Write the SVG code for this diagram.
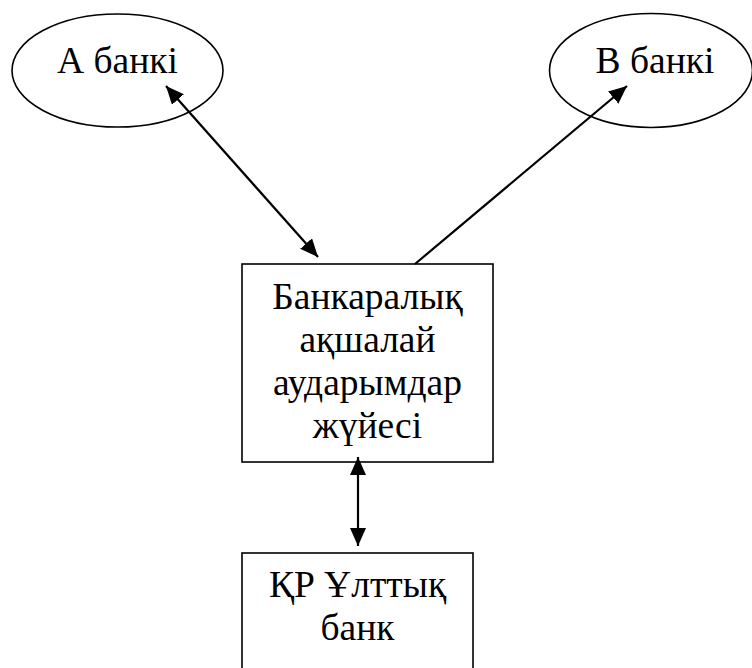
<svg xmlns="http://www.w3.org/2000/svg" width="752" height="668" viewBox="0 0 752 668">
  <style>
    .shape { fill: #ffffff; stroke: #000000; stroke-width: 1.6; }
    .label { font-family: 'Liberation Serif', 'Times New Roman', serif; font-size: 37.5px; fill: #000000; text-anchor: middle; }
    .link { fill: none; stroke: #000000; stroke-width: 2.2; }
  </style>
  <defs>
    <marker id="arrow" viewBox="0 0 18 16" refX="18" refY="8" markerWidth="18" markerHeight="16" markerUnits="userSpaceOnUse" orient="auto-start-reverse">
      <path d="M0,0 L18,8 L0,16 Z" fill="#000000"/>
    </marker>
  </defs>

  <!-- nodes -->
  <g id="bank-a">
    <ellipse class="shape" cx="117.5" cy="70.5" rx="105.5" ry="56.5"/>
    <text class="label" x="117.5" y="73">А банкі</text>
  </g>
  <g id="bank-b">
    <ellipse class="shape" cx="651" cy="70.5" rx="101.5" ry="57"/>
    <text class="label" x="655" y="73">В банкі</text>
  </g>
  <g id="interbank-system">
    <rect class="shape" x="242" y="264" width="251" height="198"/>
    <text class="label" x="367.5" y="309">Банкаралық</text>
    <text class="label" x="367.5" y="352">ақшалай</text>
    <text class="label" x="367.5" y="395">аударымдар</text>
    <text class="label" x="367.5" y="438">жүйесі</text>
  </g>
  <g id="national-bank">
    <rect class="shape" x="242" y="553" width="231" height="130"/>
    <text class="label" x="357.5" y="597">ҚР Ұлттық</text>
    <text class="label" x="357.5" y="640">банк</text>
  </g>

  <!-- connectors -->
  <g id="connectors">
    <line class="link" x1="166" y1="86" x2="318" y2="257" marker-start="url(#arrow)" marker-end="url(#arrow)"/>
    <line class="link" x1="415" y1="264" x2="627" y2="86" marker-end="url(#arrow)"/>
    <line class="link" x1="358" y1="457" x2="358" y2="546" marker-start="url(#arrow)" marker-end="url(#arrow)"/>
  </g>
</svg>
